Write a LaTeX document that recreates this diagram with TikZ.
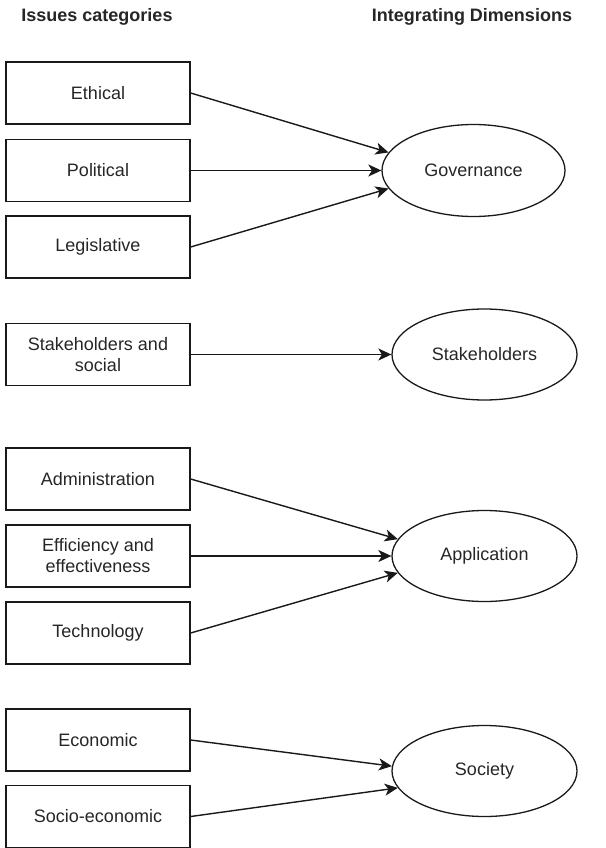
\documentclass[tikz,border=0pt]{standalone}
\usepackage{fontspec}
\setmainfont{Liberation Sans}
\usetikzlibrary{arrows.meta,shapes.geometric}
\begin{document}
\begin{tikzpicture}[x=1pt,y=-1pt,
  every node/.style={font=\fontsize{18}{21}\selectfont, text=black!85},
  heading/.style={font=\fontsize{18}{21}\selectfont\bfseries},
  catbox/.style={draw=black!90, line width=1.3pt, minimum width=184pt,
    minimum height=62pt, inner sep=0pt, align=center},
  dimoval/.style={draw=black!90, ellipse, line width=1.3pt, minimum width=185pt,
    minimum height=91pt, inner sep=0pt},
  link/.style={draw=black!90, line width=1.4pt,
    -{Stealth[length=13pt,width=12pt,inset=3.5pt]}}]
\useasboundingbox (0,0) rectangle (605,848);

% column headings
\node[heading] (hcat) at (97,17) {Issues categories};
\node[heading] (hdim) at (472,17) {Integrating Dimensions};

% issue categories
\node[catbox] (eth)  at (98,93)    {Ethical};
\node[catbox] (pol)  at (98,170.5) {Political};
\node[catbox] (leg)  at (98,247)   {Legislative};
\node[catbox] (sts)  at (98,354.5) {Stakeholders and\\social};
\node[catbox] (adm)  at (98,479)   {Administration};
\node[catbox] (eff)  at (98,556)   {Efficiency and\\effectiveness};
\node[catbox] (tech) at (98,633)   {Technology};
\node[catbox] (eco)  at (98,740)   {Economic};
\node[catbox] (soc)  at (98,816.5) {Socio-economic};

% integrating dimensions
\node[dimoval, minimum width=183pt, minimum height=92pt] (gov) at (473.5,170.5) {Governance};
\node[dimoval] (stk) at (484.5,354.5) {Stakeholders};
\node[dimoval] (app) at (484.5,556) {Application};
\node[dimoval] (sty) at (484.5,771) {Society};

% links
\draw[link] (eth.east) -- (gov.168);
\draw[link] (pol.east) -- (gov.west);
\draw[link] (leg.east) -- (gov.192);
\draw[link] (sts.east) -- (stk.west);
\draw[link] (adm.east) -- (app.169);
\draw[link] (eff.east) -- (app.west);
\draw[link] (tech.east) -- (app.191);
\draw[link] (eco.east) -- (sty.177);
\draw[link] (soc.east) -- (sty.191);
\end{tikzpicture}
\end{document}
